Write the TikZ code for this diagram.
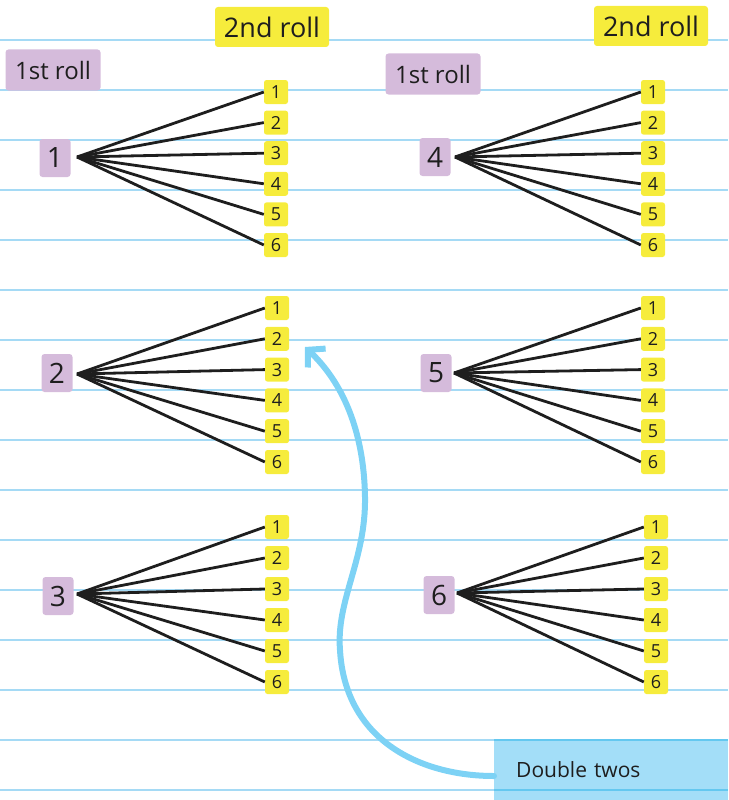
\documentclass[tikz,border=0pt]{standalone}
\usepackage{fontspec}
\setmainfont{Open Sans}
\usetikzlibrary{arrows.meta,calc}
\definecolor{ruleblue}{RGB}{165,218,245}
\definecolor{lilac}{RGB}{213,187,219}
\definecolor{hiyellow}{RGB}{246,236,60}
\definecolor{noteblue}{RGB}{163,222,248}
\definecolor{notedark}{RGB}{100,200,240}
\definecolor{arrowblue}{RGB}{125,210,245}
\definecolor{ink}{RGB}{30,30,30}
\begin{document}
\begin{tikzpicture}[x=1pt,y=-1pt,
  rootbox/.style={fill=lilac, rounded corners=3pt, minimum width=31pt, minimum height=38pt, inner sep=0pt, text=ink, font=\fontsize{28}{28}\selectfont},
  leafbox/.style={fill=hiyellow, rounded corners=2.5pt, minimum width=24pt, minimum height=24pt, inner sep=0pt, text=ink, font=\fontsize{18}{18}\selectfont},
  headyellow/.style={fill=hiyellow, rounded corners=3pt, minimum width=114pt, minimum height=40pt, inner sep=0pt, text=ink, font=\fontsize{27}{27}\selectfont},
  headlilac/.style={fill=lilac, rounded corners=3pt, minimum width=95pt, minimum height=41pt, inner sep=0pt, text=ink, font=\fontsize{24}{24}\selectfont},
  notebox/.style={fill=noteblue, minimum width=234pt, minimum height=60pt, inner xsep=22pt, inner ysep=0pt, text width=190pt, align=left, text=ink, font=\fontsize{21}{21}\selectfont},
  branch/.style={draw=ink, line width=2.8pt},
  rule/.style={draw=ruleblue, line width=1.8pt},
  notebar/.style={draw=notedark, line width=2pt},
  bluearrow/.style={draw=arrowblue, line width=6pt, line cap=round, line join=round, -{Straight Barb[length=12pt,width=26pt,line width=6pt]}}
]
\useasboundingbox (0,0) rectangle (728,800);
% ruled paper
\foreach \k in {0,...,15} \draw[rule] (0,{40+50*\k}) -- (728,{40+50*\k});
% note box
\node[notebox, anchor=west] (note) at (494,770) {Double twos};
\draw[notebar] (note.north west) -- (note.north east);
\draw[notebar] (494,790) -- (728,790);
% headers
\node[headyellow] (h2a) at (272,27) {2nd roll};
\node[headyellow] (h2b) at (651,26) {2nd roll};
\node[headlilac] (h1a) at (53,70) {1st roll};
\node[headlilac] (h1b) at (433,74) {1st roll};
% trees
\foreach \t/\bx/\by/\px/\py/\lx/\ly/\sp in {
  1/55/158/77/157/276/92/30.6,
  2/57/373/77/374/277/308/30.8,
  3/58/596/77/594/277/527/31,
  4/435/157/455/157/653/92/30.6,
  5/436/373/454/373/653/308/30.8,
  6/439/595/457/593/656/527/31} {
  \node[rootbox] (r\t) at (\bx,\by) {\t};
  \coordinate (p\t) at (\px,\py);
  \foreach \j in {1,...,6} {
    \node[leafbox] (l\t-\j) at (\lx,{\ly+(\j-1)*\sp}) {\j};
    \draw[branch] (p\t) -- (l\t-\j.west);
  }
}
% arrow to double two
\coordinate (tip) at (305,347);
\draw[bluearrow] ($(note.west)+(0,6)$) .. controls (420,776) and (345,740) .. (340,650)
  .. controls (336,600) and (366,560) .. (365,497)
  .. controls (364,430) and (342,382) .. (tip);
\end{tikzpicture}
\end{document}
